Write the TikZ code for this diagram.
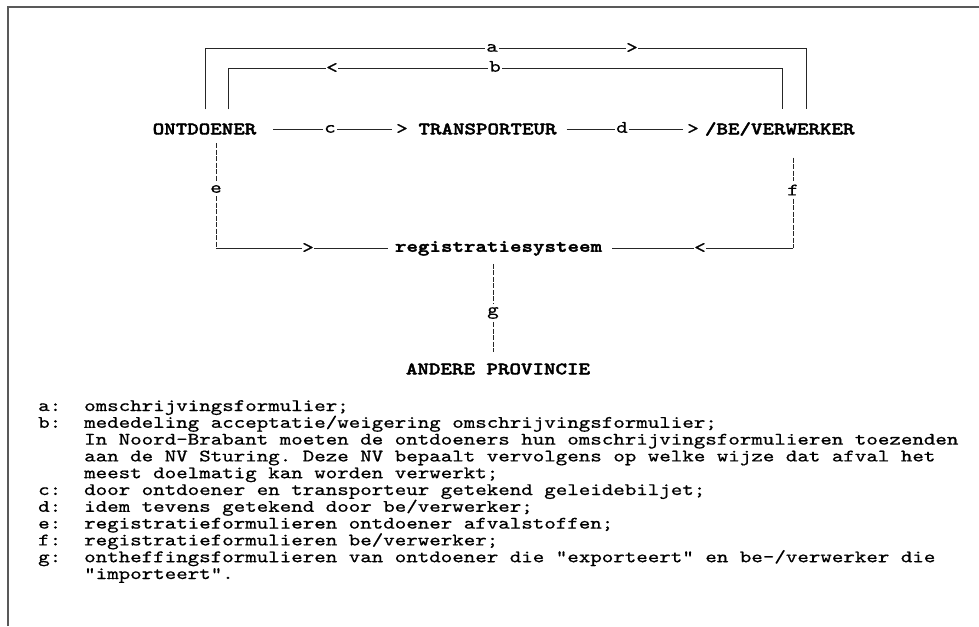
\documentclass[tikz,border=0pt]{standalone}
\usepackage{fontspec}
\setmonofont{lmmono10-regular.otf}[FakeStretch=1.252, FakeBold=0.7]
\newfontfamily\boldtt{lmmonolt10-bold.otf}[FakeStretch=1.252, FakeBold=2.2]
\begin{document}
\begin{tikzpicture}[x=1pt,y=-1pt,
  every node/.style={font=\fontsize{17.5}{16.8}\selectfont\ttfamily},
  big/.style={font=\fontsize{17.5}{16.8}\selectfont\boldtt, inner sep=0pt, text height=10.7pt, text depth=0pt},
  lbl/.style={inner xsep=1.5pt, inner ysep=0pt, text height=7.5pt, text depth=0pt},
  vlbl/.style={inner xsep=0pt, inner ysep=3pt},
  chr/.style={inner sep=0.5pt, fill=white},
  leg/.style={anchor=base west, inner sep=0pt},
  ln/.style={line width=0.9pt, black!85},
  dln/.style={ln, dash pattern=on 5pt off 1.5pt},
  frame/.style={line width=2pt, black!65}]
\useasboundingbox (0,0) rectangle (979,626);
% frame
\coordinate (fb) at (8,626);
\coordinate (fc) at (8,7);
\coordinate (fr) at (979,7);
\draw[frame] (fb) -- (fc) -- (fr);

% main nodes
\node[big] (ont) at (204.5,129) {ONTDOENER};
\node[big] (tr) at (487.5,129) {TRANSPORTEUR};
\node[big] (be) at (779.75,129) {/BE/VERWERKER};
\node[big, text height=7.5pt] (reg) at (498.5,248) {registratiesysteem};
\node[big] (ap) at (498,369) {ANDERE PROVINCIE};

% labels
\node[lbl] (la) at (492,48) {a};
\node[lbl] (lb) at (495,68) {b};
\node[lbl] (lc) at (330,129) {c};
\node[lbl] (ld) at (622,129) {d};
\node[vlbl] (le) at (216,189) {e};
\node[vlbl] (lf) at (793,190) {f};
\node[vlbl] (lg) at (493,313) {g};

% direction characters
\node[chr] (gtc) at (402,129) {>};
\node[chr] (gtd) at (693,129) {>};

% a and b
\draw[ln, shorten <=14pt] ([xshift=0.5pt]ont.north) |- (la);
\draw[ln, shorten >=14pt] (la) -| ([xshift=26.25pt]be.north);
\draw[ln, shorten <=14pt] ([xshift=23.5pt]ont.north) |- (lb);
\draw[ln, shorten >=14pt] (lb) -| ([xshift=2.25pt]be.north);

% c and d
\draw[ln, shorten <=17pt] (ont) -- (lc);
\draw[ln, shorten >=4pt] (lc) -- (gtc);
\draw[ln, shorten <=10pt] (tr) -- (ld);
\draw[ln, shorten >=4pt] (ld) -- (gtd);

% e
\coordinate (ce) at (le |- reg);
\draw[dln, shorten <=8.5pt] ([xshift=11.5pt]ont.south) -- (le);
\draw[dln] (le) -- (ce);
\draw[ln, shorten >=7pt] (ce) -- (reg);

% f
\coordinate (cf) at (lf |- reg);
\draw[dln, shorten <=23pt] ([xshift=13.25pt]be.south) -- (lf);
\draw[dln] (lf) -- (cf);
\draw[ln, shorten >=10pt] (cf) -- (reg);

% g
\draw[dln, shorten <=12pt] ([xshift=-5.5pt]reg.south) -- (lg);
\draw[dln, shorten >=11.5pt] (lg) -- ([xshift=-5pt]ap.north);

% direction characters over lines
\node[chr] (gta) at (632,48) {>};
\node[chr] (ltb) at (332,68) {<};
\node[chr] (gte) at (308,248) {>};
\node[chr] (ltf) at (700,248) {<};

% legend
\node[leg] (ka) at (38,411) {a:};
\node[leg] (ta) at (84,411) {omschrijvingsformulier;};
\node[leg] (kb) at (38,427.8) {b:};
\node[leg] (tb1) at (84,427.8) {mededeling acceptatie/weigering omschrijvingsformulier;};
\node[leg] (tb2) at (84,444.6) {In Noord-Brabant moeten de ontdoeners hun omschrijvingsformulieren toezenden};
\node[leg] (tb3) at (84,461.4) {aan de NV Sturing. Deze NV bepaalt vervolgens op welke wijze dat afval het};
\node[leg] (tb4) at (84,478.2) {meest doelmatig kan worden verwerkt;};
\node[leg] (kc) at (38,495) {c:};
\node[leg] (tc) at (84,495) {door ontdoener en transporteur getekend geleidebiljet;};
\node[leg] (kd) at (38,511.8) {d:};
\node[leg] (td) at (84,511.8) {idem tevens getekend door be/verwerker;};
\node[leg] (ke) at (38,528.6) {e:};
\node[leg] (te) at (84,528.6) {registratieformulieren ontdoener afvalstoffen;};
\node[leg] (kf) at (38,545.4) {f:};
\node[leg] (tf) at (84,545.4) {registratieformulieren be/verwerker;};
\node[leg] (kg) at (38,562.2) {g:};
\node[leg] (tg1) at (84,562.2) {ontheffingsformulieren van ontdoener die "exporteert" en be-/verwerker die};
\node[leg] (tg2) at (84,579) {"importeert".};
\end{tikzpicture}
\end{document}
